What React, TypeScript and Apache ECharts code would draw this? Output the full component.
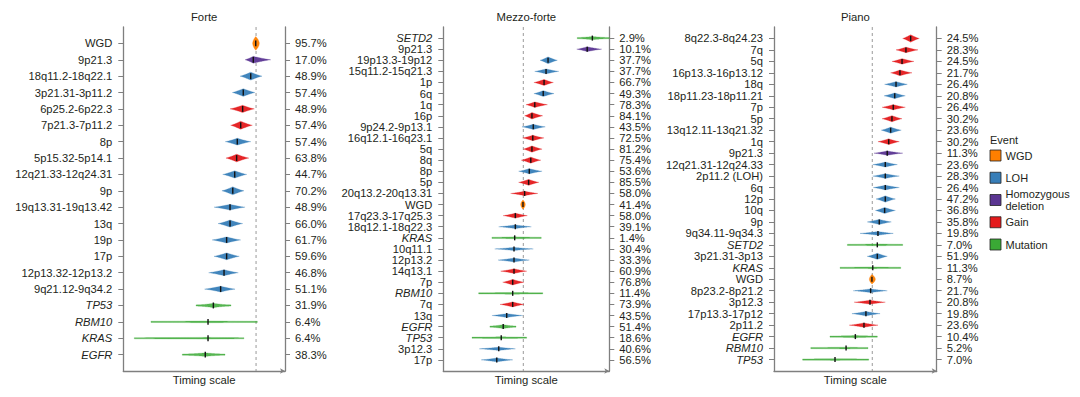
import React, { useEffect, useRef } from "react";
import * as echarts from "echarts";

// ---------- Event types ----------
const eventCodes = ["W", "L", "H", "G", "M"];
const eventLegendLabels = ["WGD", "LOH", "Homozygous\ndeletion", "Gain", "Mutation"];
const eventColors = ["#FF7F00", "#377EB8", "#5B3592", "#E41A1C", "#3AA935"];

// ---------- Forte ----------
const forteLabels = ["WGD", "9p21.3", "18q11.2-18q22.1", "3p21.31-3p11.2", "6p25.2-6p22.3", "7p21.3-7p11.2", "8p", "5p15.32-5p14.1", "12q21.33-12q24.31", "9p", "19q13.31-19q13.42", "13q", "19p", "17p", "12p13.32-12p13.2", "9q21.12-9q34.2", "TP53", "RBM10", "KRAS", "EGFR"];
const forteEvents = ["W", "H", "L", "L", "G", "G", "L", "G", "L", "L", "L", "L", "L", "L", "L", "L", "M", "M", "M", "M"];
const forteLow = [0.800, 0.753, 0.722, 0.674, 0.660, 0.664, 0.631, 0.635, 0.615, 0.610, 0.561, 0.586, 0.549, 0.561, 0.528, 0.503, 0.450, 0.171, 0.068, 0.365];
const forteMedian = [0.819, 0.804, 0.788, 0.742, 0.738, 0.726, 0.705, 0.701, 0.689, 0.677, 0.660, 0.660, 0.639, 0.639, 0.623, 0.602, 0.557, 0.524, 0.524, 0.507];
const forteHigh = [0.841, 0.912, 0.858, 0.814, 0.810, 0.798, 0.788, 0.776, 0.763, 0.746, 0.753, 0.738, 0.726, 0.717, 0.711, 0.691, 0.666, 0.829, 0.746, 0.629];
const fortePct = [95.7, 17.0, 48.9, 57.4, 48.9, 57.4, 57.4, 63.8, 44.7, 70.2, 48.9, 66.0, 61.7, 59.6, 46.8, 51.1, 31.9, 6.4, 6.4, 38.3];
const forteThreshold = 0.821;

// ---------- Mezzo-forte ----------
const mezzoLabels = ["SETD2", "9p21.3", "19p13.3-19p12", "15q11.2-15q21.3", "1p", "6q", "1q", "16p", "9p24.2-9p13.1", "16q12.1-16q23.1", "5q", "8q", "8p", "5p", "20q13.2-20q13.31", "WGD", "17q23.3-17q25.3", "18q12.1-18q22.3", "KRAS", "10q11.1", "12p13.2", "14q13.1", "7p", "RBM10", "7q", "13q", "EGFR", "TP53", "3p12.3", "17p"];
const mezzoEvents = ["M", "H", "L", "L", "G", "L", "G", "G", "L", "G", "G", "G", "L", "G", "G", "W", "G", "L", "M", "L", "L", "G", "G", "M", "G", "L", "M", "M", "L", "L"];
const mezzoLow = [0.807, 0.804, 0.583, 0.551, 0.546, 0.546, 0.498, 0.490, 0.474, 0.478, 0.482, 0.470, 0.454, 0.454, 0.406, 0.466, 0.361, 0.334, 0.293, 0.310, 0.330, 0.346, 0.358, 0.213, 0.342, 0.293, 0.281, 0.173, 0.217, 0.229];
const mezzoMedian = [0.898, 0.867, 0.631, 0.619, 0.607, 0.602, 0.551, 0.534, 0.542, 0.539, 0.534, 0.527, 0.518, 0.514, 0.490, 0.480, 0.434, 0.434, 0.430, 0.426, 0.426, 0.426, 0.418, 0.418, 0.418, 0.382, 0.361, 0.349, 0.334, 0.322];
const mezzoHigh = [1.0, 0.954, 0.687, 0.695, 0.663, 0.667, 0.627, 0.599, 0.614, 0.607, 0.595, 0.587, 0.595, 0.575, 0.570, 0.494, 0.506, 0.530, 0.590, 0.542, 0.518, 0.502, 0.486, 0.599, 0.486, 0.478, 0.438, 0.502, 0.434, 0.418];
const mezzoPct = [2.9, 10.1, 37.7, 37.7, 66.7, 49.3, 78.3, 84.1, 43.5, 72.5, 81.2, 75.4, 53.6, 85.5, 58.0, 41.4, 58.0, 39.1, 1.4, 30.4, 33.3, 60.9, 76.8, 11.4, 73.9, 43.5, 51.4, 18.6, 40.6, 56.5];
const mezzoThreshold = 0.482;

// ---------- Piano ----------
const pianoLabels = ["8q22.3-8q24.23", "7q", "5q", "16p13.3-16p13.12", "18q", "18p11.23-18p11.21", "7p", "5p", "13q12.11-13q21.32", "1q", "9p21.3", "12q21.31-12q24.33", "2p11.2 (LOH)", "6q", "12p", "10q", "9p", "9q34.11-9q34.3", "SETD2", "3p21.31-3p13", "KRAS", "WGD", "8p23.2-8p21.2", "3p12.3", "17p13.3-17p12", "2p11.2", "EGFR", "RBM10", "TP53"];
const pianoEvents = ["G", "G", "G", "G", "L", "L", "G", "G", "L", "G", "H", "L", "L", "L", "L", "L", "L", "L", "M", "L", "M", "W", "L", "G", "L", "G", "M", "M", "M"];
const pianoLow = [0.791, 0.750, 0.725, 0.717, 0.680, 0.676, 0.664, 0.664, 0.659, 0.639, 0.615, 0.607, 0.607, 0.610, 0.627, 0.623, 0.573, 0.529, 0.451, 0.573, 0.406, 0.586, 0.487, 0.492, 0.479, 0.463, 0.344, 0.226, 0.176];
const pianoMedian = [0.840, 0.811, 0.787, 0.774, 0.750, 0.742, 0.733, 0.725, 0.717, 0.705, 0.696, 0.684, 0.684, 0.684, 0.684, 0.680, 0.647, 0.639, 0.635, 0.635, 0.607, 0.602, 0.594, 0.590, 0.565, 0.553, 0.500, 0.443, 0.375];
const pianoHigh = [0.893, 0.885, 0.860, 0.848, 0.819, 0.807, 0.807, 0.787, 0.782, 0.770, 0.791, 0.758, 0.770, 0.770, 0.746, 0.746, 0.721, 0.733, 0.791, 0.696, 0.779, 0.623, 0.696, 0.684, 0.652, 0.639, 0.635, 0.578, 0.582];
const pianoPct = [24.5, 28.3, 24.5, 21.7, 26.4, 20.8, 26.4, 30.2, 23.6, 30.2, 11.3, 23.6, 28.3, 26.4, 47.2, 36.8, 35.8, 19.8, 7.0, 51.9, 11.3, 8.7, 21.7, 20.8, 19.8, 23.6, 10.4, 5.2, 7.0];
const pianoThreshold = 0.604;

const panels = [
  { title: "Forte", labels: forteLabels, events: forteEvents, low: forteLow, median: forteMedian, high: forteHigh, pct: fortePct, threshold: forteThreshold },
  { title: "Mezzo-forte", labels: mezzoLabels, events: mezzoEvents, low: mezzoLow, median: mezzoMedian, high: mezzoHigh, pct: mezzoPct, threshold: mezzoThreshold },
  { title: "Piano", labels: pianoLabels, events: pianoEvents, low: pianoLow, median: pianoMedian, high: pianoHigh, pct: pianoPct, threshold: pianoThreshold },
];

// ---------- Layout / style ----------
const layout = [
  { left: 123.3, width: 161.7 },
  { left: 443.3, width: 166 },
  { left: 774, width: 162.7 },
];
const GRID_TOP = 27;
const GRID_HEIGHT = 344;
const FONT = '"Liberation Sans", Arial, Helvetica, sans-serif';
const TEXT = "#231f20";
const AXIS = "#7f7f7f";
const LABEL_SIZE = 11.2;

function renderViolin(params: any, api: any) {
  const row = api.value(0);
  const lo = api.value(1);
  const med = api.value(2);
  const hi = api.value(3);
  const ev = api.value(4);
  const y = api.coord([med, row])[1];
  const xLo = api.coord([lo, row])[0];
  const xMed = api.coord([med, row])[0];
  const xHi = api.coord([hi, row])[0];
  const band = Math.abs(api.size([0, 1])[1]);
  const W = Math.max(xHi - xLo, 1);
  const cap = 0.42 * band;
  let h = Math.min(cap, (5.3 * band) / W);
  let p = 1.2;
  let minT = 0;
  let opacity = 0.95;
  if (ev === 0) p = 0.55;
  if (ev === 4) {
    h = Math.max(0.9, Math.min(cap, h * 0.85));
    p = 1.6;
    minT = 0.6;
    opacity = 0.85;
  }
  const N = 24;
  const top: number[][] = [];
  const bottom: number[][] = [];
  const push = (x: number, u: number) => {
    const f = Math.pow(Math.max(0, 1 - u), p);
    const t = minT + (h - minT) * f;
    top.push([x, y - t]);
    bottom.push([x, y + t]);
  };
  const lw = Math.max(xMed - xLo, 0.01);
  const rw = Math.max(xHi - xMed, 0.01);
  for (let k = 0; k <= N; k++) {
    const x = xLo + (lw * k) / N;
    push(x, (xMed - x) / lw);
  }
  for (let k = 1; k <= N; k++) {
    const x = xMed + (rw * k) / N;
    push(x, (x - xMed) / rw);
  }
  const points = top.concat(bottom.reverse());
  const color = eventColors[ev];
  const tickH = Math.max(5, 0.36 * band);
  return {
    type: "group",
    children: [
      {
        type: "polygon",
        shape: { points },
        style: { fill: color, stroke: color, lineWidth: 0.3, opacity },
      },
      {
        type: "line",
        shape: { x1: xMed, y1: y - tickH / 2, x2: xMed, y2: y + tickH / 2 },
        style: { stroke: "#111", lineWidth: 1.4 },
      },
    ],
  };
}

function buildOption() {
  const grid: any[] = [];
  const xAxis: any[] = [];
  const yAxis: any[] = [];
  const series: any[] = [];
  const graphic: any[] = [];

  panels.forEach((pn, i) => {
    const n = pn.labels.length;
    const idx = pn.labels.map((_, k) => k);
    const L = layout[i];
    grid.push({ left: L.left, width: L.width, top: GRID_TOP, height: GRID_HEIGHT, containLabel: false });
    xAxis.push({
      type: "value",
      gridIndex: i,
      min: 0,
      max: 1,
      axisLine: {
        show: true,
        onZero: false,
        symbol: ["none", "arrow"],
        symbolSize: [4, 5],
        lineStyle: { color: AXIS, width: 1.3 },
      },
      axisTick: { show: false },
      axisLabel: { show: false },
      splitLine: { show: false },
      name: "Timing scale",
      nameLocation: "middle",
      nameGap: 3,
      nameTextStyle: { fontSize: 11.3, color: TEXT, fontFamily: FONT, verticalAlign: "top" },
    });
    const common = {
      type: "value",
      gridIndex: i,
      inverse: true,
      min: -1,
      max: n,
      interval: 1,
      splitLine: { show: false },
      axisLine: { show: true, onZero: false, lineStyle: { color: AXIS, width: 1.3 } },
      axisTick: { show: true, length: 5, lineStyle: { color: AXIS, width: 1 }, customValues: idx },
    };
    yAxis.push({
      ...common,
      position: "left",
      axisLabel: {
        customValues: idx,
        margin: 11,
        fontSize: LABEL_SIZE,
        color: TEXT,
        fontFamily: FONT,
        formatter: (v: number) => {
          const k = Math.round(v);
          if (k < 0 || k >= n) return "";
          return pn.events[k] === "M" ? `{it|${pn.labels[k]}}` : pn.labels[k];
        },
        rich: { it: { fontStyle: "italic", fontSize: LABEL_SIZE, color: TEXT, fontFamily: FONT } },
      },
    });
    yAxis.push({
      ...common,
      position: "right",
      axisLabel: {
        customValues: idx,
        margin: 10,
        fontSize: LABEL_SIZE,
        color: TEXT,
        fontFamily: FONT,
        formatter: (v: number) => {
          const k = Math.round(v);
          if (k < 0 || k >= n) return "";
          return pn.pct[k].toFixed(1) + "%";
        },
      },
    });
    series.push({
      type: "line",
      xAxisIndex: i,
      yAxisIndex: 2 * i,
      data: [
        [pn.threshold, -1],
        [pn.threshold, n],
      ],
      symbol: "none",
      silent: true,
      z: 1,
      lineStyle: { type: [3, 3], color: "#9a9a9a", width: 1 },
    });
    series.push({
      type: "custom",
      xAxisIndex: i,
      yAxisIndex: 2 * i,
      silent: true,
      clip: false,
      z: 2,
      encode: { x: [1, 2, 3], y: 0 },
      data: pn.labels.map((_, k) => [k, pn.low[k], pn.median[k], pn.high[k], eventCodes.indexOf(pn.events[k])]),
      renderItem: renderViolin,
    });
    graphic.push({
      type: "text",
      x: L.left + L.width / 2,
      y: 17,
      style: { text: pn.title, fontSize: 11.3, fontFamily: FONT, fill: TEXT, align: "center", verticalAlign: "middle" },
    });
  });

  const legendChildren: any[] = [
    { type: "text", x: 0, y: 140, style: { text: "Event", fontSize: 11, fontFamily: FONT, fill: TEXT, verticalAlign: "middle" } },
  ];
  eventLegendLabels.forEach((lab, i) => {
    const cy = 155.5 + i * 22.25;
    legendChildren.push({
      type: "rect",
      shape: { x: 0, y: cy - 5.5, width: 11, height: 11 },
      style: { fill: eventColors[i], stroke: "#222", lineWidth: 0.8 },
    });
    legendChildren.push({
      type: "text",
      x: 15.5,
      y: cy,
      style: { text: lab, fontSize: 11, lineHeight: 12.7, fontFamily: FONT, fill: TEXT, verticalAlign: "middle" },
    });
  });
  graphic.push({ type: "group", x: 990, y: 0, children: legendChildren });

  return {
    animation: false,
    backgroundColor: "#ffffff",
    textStyle: { fontFamily: FONT },
    grid,
    xAxis,
    yAxis,
    series,
    graphic,
  };
}

export default function App() {
  const ref = useRef<HTMLDivElement>(null);
  useEffect(() => {
    if (!ref.current) return;
    const chart = echarts.init(ref.current, undefined, { renderer: "svg" });
    chart.setOption(buildOption() as any);
    return () => chart.dispose();
  }, []);
  return <div ref={ref} style={{ position: "absolute", left: 0, top: 0, width: 1080, height: 397, background: "#fff" }} />;
}
